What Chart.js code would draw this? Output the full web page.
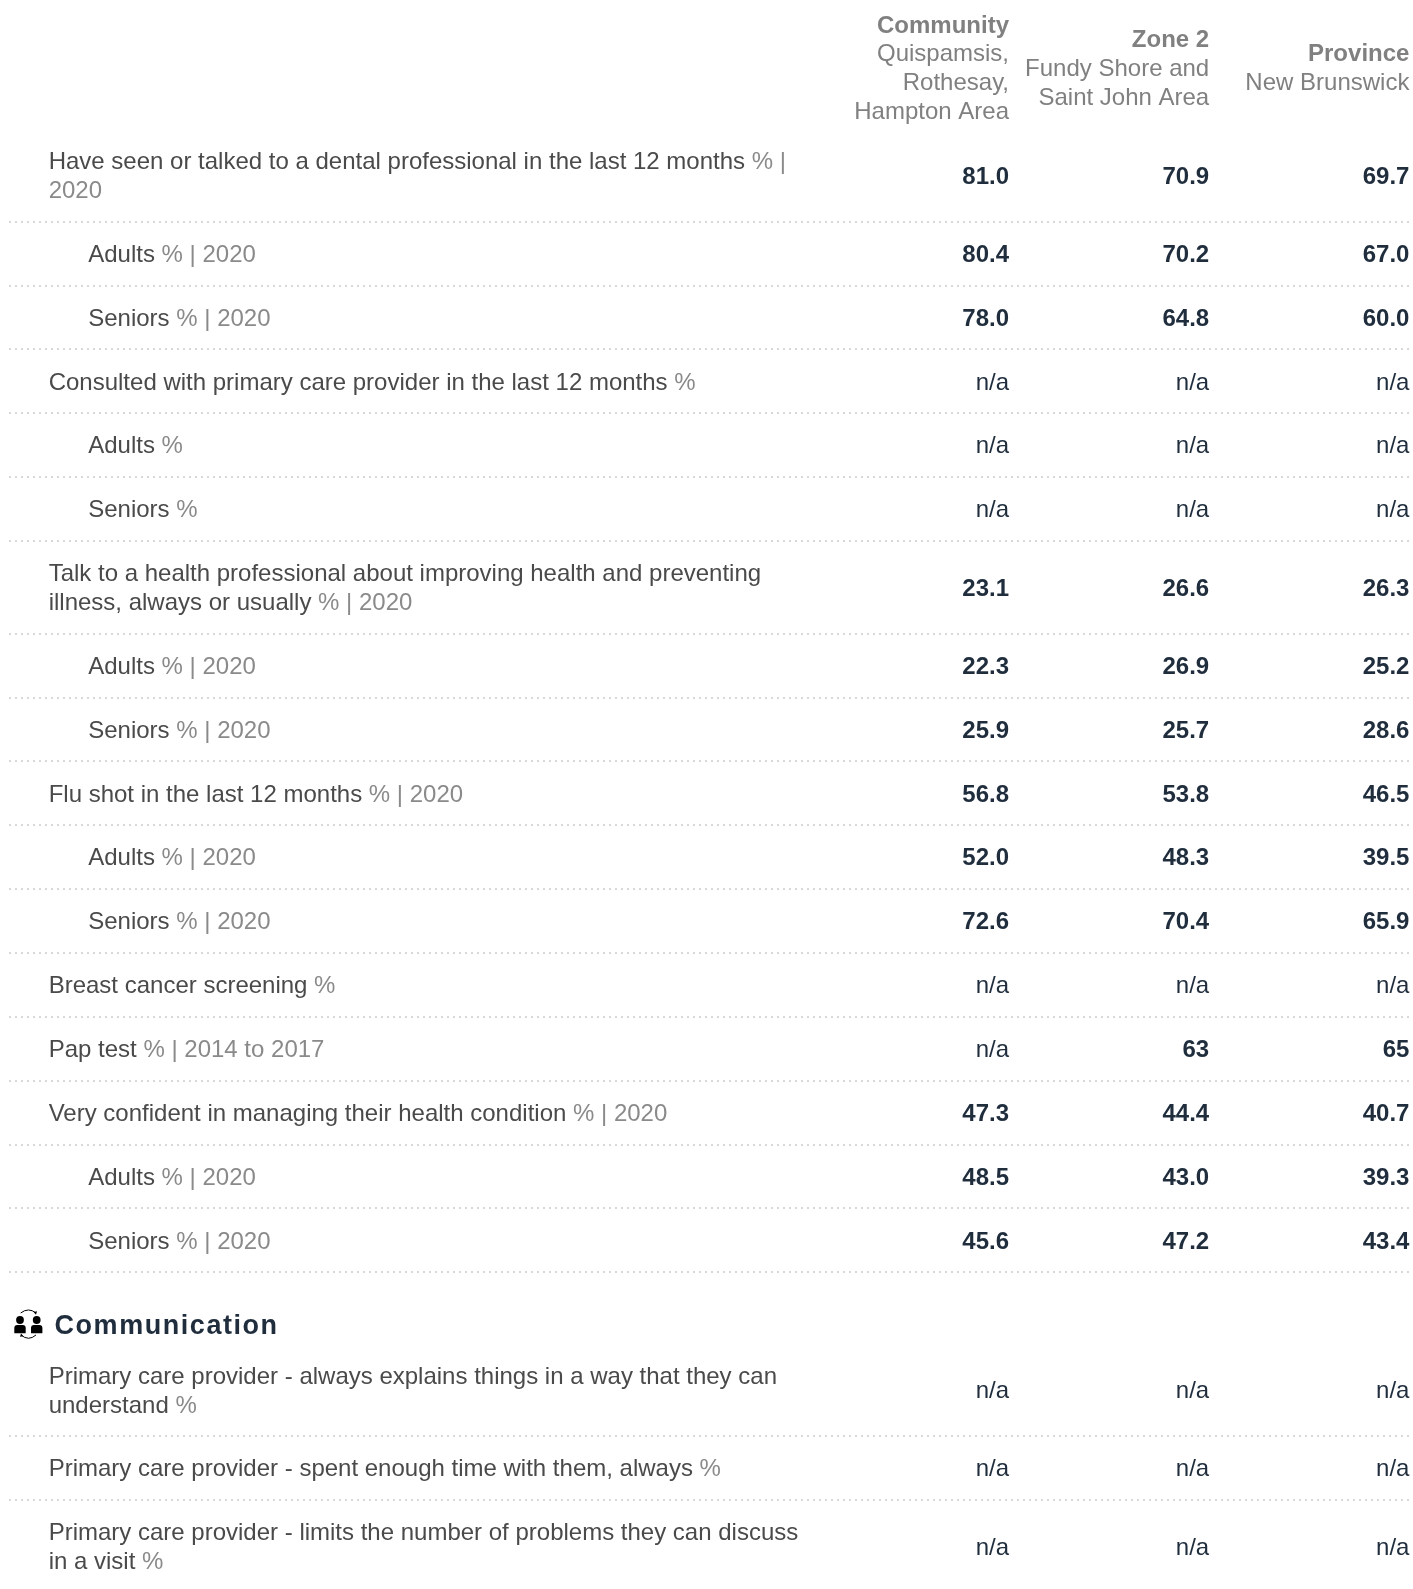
<!DOCTYPE html>
<html><head><meta charset="utf-8">
<script src="https://cdn.jsdelivr.net/npm/chart.js@4/dist/chart.umd.min.js"></script>
<style>html,body{margin:0;padding:0;background:#fff}#w{width:1413px;height:1589px;position:relative}</style>
</head><body><div id="w"><canvas id="c"></canvas></div>
<script>
const columnTitles=["Community","Zone 2","Province"];
const columnSubtitles=[["Quispamsis,","Rothesay,","Hampton Area"],["Fundy Shore and","Saint John Area"],["New Brunswick"]];
const rowLabels=[
[["Have seen or talked to a dental professional in the last 12 months ","% |"],["","2020"]],
[["Adults ","% | 2020"]],[["Seniors ","% | 2020"]],
[["Consulted with primary care provider in the last 12 months ","%"]],
[["Adults ","%"]],[["Seniors ","%"]],
[["Talk to a health professional about improving health and preventing",""],["illness, always or usually ","% | 2020"]],
[["Adults ","% | 2020"]],[["Seniors ","% | 2020"]],
[["Flu shot in the last 12 months ","% | 2020"]],
[["Adults ","% | 2020"]],[["Seniors ","% | 2020"]],
[["Breast cancer screening ","%"]],
[["Pap test ","% | 2014 to 2017"]],
[["Very confident in managing their health condition ","% | 2020"]],
[["Adults ","% | 2020"]],[["Seniors ","% | 2020"]],
[["Primary care provider - always explains things in a way that they can",""],["understand ","%"]],
[["Primary care provider - spent enough time with them, always ","%"]],
[["Primary care provider - limits the number of problems they can discuss",""],["in a visit ","%"]]
];
const rowIndent=[0,1,1,0,1,1,0,1,1,0,1,1,0,0,0,1,1,0,0,0];
const community=["81.0","80.4","78.0","n/a","n/a","n/a","23.1","22.3","25.9","56.8","52.0","72.6","n/a","n/a","47.3","48.5","45.6","n/a","n/a","n/a"];
const zone2=["70.9","70.2","64.8","n/a","n/a","n/a","26.6","26.9","25.7","53.8","48.3","70.4","n/a","63","44.4","43.0","47.2","n/a","n/a","n/a"];
const province=["69.7","67.0","60.0","n/a","n/a","n/a","26.3","25.2","28.6","46.5","39.5","65.9","n/a","65","40.7","39.3","43.4","n/a","n/a","n/a"];
const sectionTitle="Communication";
const sectionBeforeRow=17;

const S=1.0136;
const ROW=63*S, LINE=28.5*S, TOP=127.2*S, SECTION=70.3*S, PAGE=1589;
const FONT='"Liberation Sans",Arial,sans-serif';
const PX=24;
const centres=[],seps=[];
let yy=TOP;
rowLabels.forEach((r,i)=>{
  if(i===sectionBeforeRow) yy+=SECTION;
  const h=ROW+(r.length-1)*LINE;
  centres.push(yy+h/2);
  yy+=h;
  if(i<rowLabels.length-1) seps.push(yy);
});
const LEFT=9, C0=995*S+0.5, C2=1390*S+0.5, STEP=(C2-C0)/2, W=1413;
const series=[community,zone2,province];
const datasets=series.map((v,c)=>({label:columnTitles[c],
  data:v.map((t,i)=>({x:c,y:centres[i],t})),pointRadius:0,showLine:false}));

const textPlugin={id:'textPlugin',afterDatasetsDraw(ch){
  const g=ch.ctx,X=ch.scales.x,Y=ch.scales.y;
  g.save();g.textBaseline='alphabetic';
  columnTitles.forEach((t,c)=>{
    const subs=columnSubtitles[c],n=subs.length+1;
    const mid=Y.getPixelForValue(67*S);
    const b=mid-(n-1)/2*LINE+8;
    const x=X.getPixelForValue(c);
    g.textAlign='right';
    g.font='bold '+PX+'px '+FONT;g.fillStyle='#808080';g.fillText(t,x,b);
    g.font=PX+'px '+FONT;
    subs.forEach((s,k)=>g.fillText(s,x,b+(k+1)*LINE));
  });
  rowLabels.forEach((r,i)=>{
    const c=Y.getPixelForValue(centres[i]);
    const x0=(rowIndent[i]?87:48)*S;
    r.forEach((pair,k)=>{
      const b=c+(k-(r.length-1)/2)*LINE+8.2;
      g.textAlign='left';g.font=PX+'px '+FONT;
      g.fillStyle='#4a4a4a';g.fillText(pair[0],x0,b);
      const w=g.measureText(pair[0]).width;
      g.fillStyle='#8a8a8a';g.fillText(pair[1],x0+w,b);
    });
  });
  ch.data.datasets.forEach((d,di)=>{
    ch.getDatasetMeta(di).data.forEach((pt,i)=>{
      const t=d.data[i].t;
      g.textAlign='right';
      g.font=(t==='n/a'?'':'bold ')+PX+'px '+FONT;
      g.fillStyle='#1f2d3d';
      g.fillText(t,pt.x,pt.y+8.2);
    });
  });
  const hy=Y.getPixelForValue(1307*S);
  g.textAlign='left';g.font='bold 27px '+FONT;g.fillStyle='#1f2d3d';
  g.letterSpacing='1.55px';
  g.fillText(sectionTitle,54.5,hy+9);
  g.letterSpacing='0px';
  // icon: two people with exchange arrows
  g.fillStyle='#000';g.strokeStyle='#000';g.lineWidth=1;
  [20,36.7].forEach(cx=>{
    g.beginPath();g.arc(cx,hy-4.8,3.9,0,7);g.fill();
    g.beginPath();g.roundRect(cx-5.7,hy+0.2,11.4,8.3,[3,3,0.5,0.5]);g.fill();
  });
  g.beginPath();g.moveTo(20.7,hy-11.8);g.quadraticCurveTo(28.5,hy-17.8,36,hy-11.8);g.stroke();
  g.beginPath();g.moveTo(36,hy-10);g.lineTo(37,hy-13.5);g.lineTo(33.6,hy-12.8);g.closePath();g.fill();
  g.beginPath();g.moveTo(21,hy+10.2);g.quadraticCurveTo(28.5,hy+16.8,36,hy+10.2);g.stroke();
  g.beginPath();g.moveTo(21,hy+8.6);g.lineTo(20,hy+12);g.lineTo(23.4,hy+11.4);g.closePath();g.fill();
  g.restore();
}};

new Chart(document.getElementById('c'),{type:'scatter',data:{datasets},plugins:[textPlugin],options:{
  responsive:true,maintainAspectRatio:false,animation:false,
  layout:{padding:{left:LEFT,right:0,top:0,bottom:0}},
  plugins:{legend:{display:false},tooltip:{enabled:false}},
  scales:{
    x:{type:'linear',min:-(C0-LEFT)/STEP,max:(W-C0)/STEP,display:false},
    y:{type:'linear',reverse:true,min:0,max:PAGE,
       afterBuildTicks(a){a.ticks=seps.map(v=>({value:v}));},
       border:{display:false,dash:[2,4]},
       grid:{color:'#d8d8d8',lineWidth:2,drawTicks:false},
       ticks:{display:false}}
  }
}});
</script></body></html>
